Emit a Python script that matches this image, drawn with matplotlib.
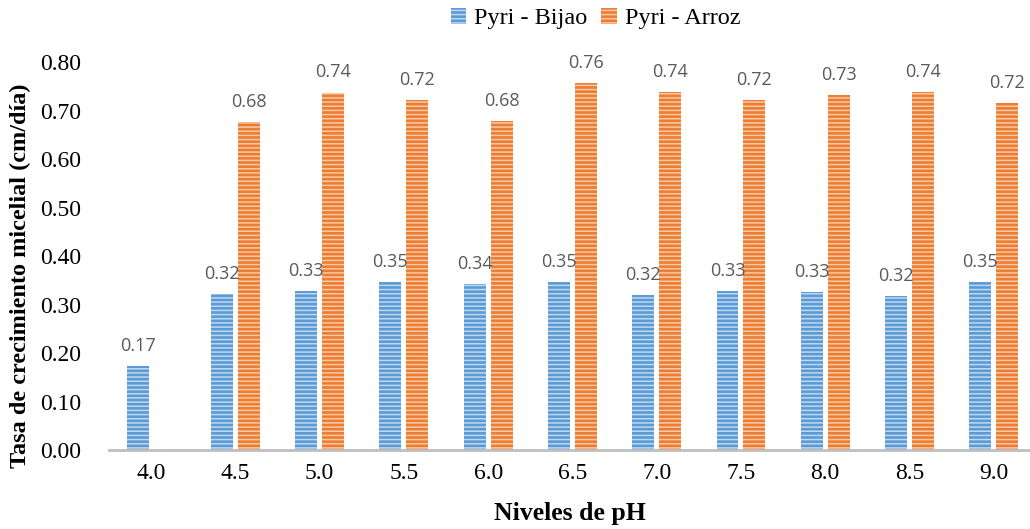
import numpy as np
import matplotlib
matplotlib.use('Agg')
import matplotlib.pyplot as plt
from matplotlib.patches import Patch

plt.rcParams['font.family'] = ['Liberation Serif', 'DejaVu Serif']
plt.rcParams['hatch.linewidth'] = 1.1

# niveles de pH y tasas (cm/dia)
ph = ['4.0', '4.5', '5.0', '5.5', '6.0', '6.5', '7.0', '7.5', '8.0', '8.5', '9.0']
bijao = [0.173, 0.322, 0.328, 0.347, 0.342, 0.347, 0.320, 0.328, 0.326, 0.317, 0.347]
arroz = [0.0, 0.676, 0.737, 0.721, 0.678, 0.756, 0.738, 0.722, 0.732, 0.738, 0.716]

blue, blue_l = '#5B9BD5', '#BFD8F0'
orange, orange_l = '#ED7D31', '#F8C9A8'

fig = plt.figure(figsize=(10.30, 5.29), dpi=100)
ax = fig.add_axes([0.1058, 0.1493, 0.8942, 0.7335])

x = np.arange(len(ph))
w = 0.26
off = 0.16

b1 = ax.bar(x - off, bijao, w, color=blue, edgecolor=blue_l, linewidth=0, hatch='----')
b2 = ax.bar(x + off, arroz, w, color=orange, edgecolor=orange_l, linewidth=0, hatch='----')

# etiquetas de datos
for xi, v in zip(x, bijao):
    ax.annotate(f'{v:.2f}', (xi - off, v), xytext=(0, 8), textcoords='offset points',
                ha='center', va='bottom', fontsize=13, color='#595959', family='Open Sans')
for xi, v in zip(x, arroz):
    if v > 0:
        ax.annotate(f'{v:.2f}', (xi + off, v), xytext=(0, 8), textcoords='offset points',
                    ha='center', va='bottom', fontsize=13, color='#595959', family='Open Sans')

ax.set_xlim(-0.5, 10.43)
ax.set_ylim(0, 0.8)
ax.set_yticks(np.arange(0, 0.81, 0.1))
ax.set_yticklabels([f'{t:.2f}' for t in np.arange(0, 0.81, 0.1)])
ax.set_xticks(x)
ax.set_xticklabels(ph)
ax.tick_params(axis='both', length=0, labelsize=17)
ax.tick_params(axis='y', pad=20)
ax.tick_params(axis='x', pad=9)

for s in ['top', 'right', 'left']:
    ax.spines[s].set_visible(False)
ax.spines['bottom'].set_color('#BFBFBF')
ax.spines['bottom'].set_linewidth(2)

ax.set_xlabel('Niveles de pH', fontsize=18.5, fontweight='bold', labelpad=13)
ax.set_ylabel('Tasa de crecimiento micelial (cm/día)', fontsize=17.5, fontweight='bold')
ax.yaxis.set_label_coords(-0.085, 0.45)

handles = [Patch(facecolor=blue, edgecolor=blue_l, linewidth=0, hatch='----'),
           Patch(facecolor=orange, edgecolor=orange_l, linewidth=0, hatch='----')]
fig.legend(handles, ['Pyri - Bijao', 'Pyri - Arroz'], loc='center', bbox_to_anchor=(0.578, 0.965),
           ncol=2, frameon=False, fontsize=17.5, handlelength=0.65, handleheight=0.65,
           handletextpad=0.3, columnspacing=0.6)

fig.savefig('out.png', dpi=100)
